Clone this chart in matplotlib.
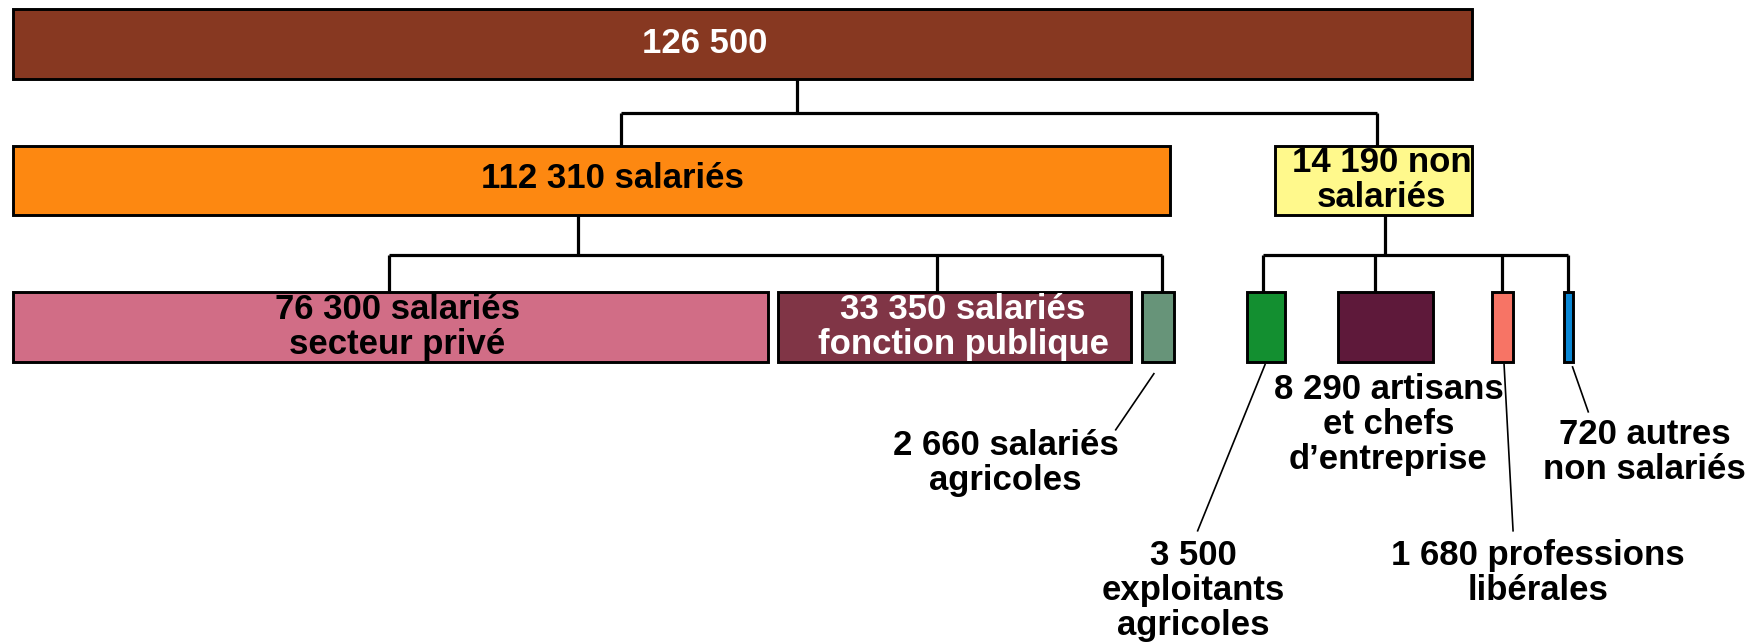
import matplotlib
matplotlib.use("Agg")
import matplotlib.pyplot as plt
from matplotlib.patches import Rectangle

# ---- data ----
total_value = 126500
level2_values = [112310, 14190]
level2_labels = ["salariés", "non\nsalariés"]
sal_values = [76300, 33350, 2660]
sal_labels = ["salariés\nsecteur privé", "salariés\nfonction publique", "salariés\nagricoles"]
nonsal_values = [3500, 8290, 1680, 720]
nonsal_labels = ["\nexploitants\nagricoles", "artisans\net chefs\nd\u2019entreprise",
                 "professions\nlibérales", "autres\nnon salariés"]

def fmt(v):
    return f"{v:,}".replace(",", " ")

# ---- layout (pixel-like coords of a 1568x573 canvas) ----
BROWN = "#873821"
ORANGE = "#FD8811"
YELLOW = "#FFF98C"
PINK = "#D16D86"
WINE = "#803546"
SAGE = "#679479"
GREEN = "#138F30"
PLUM = "#5E193A"
SALMON = "#F77465"
BLUE = "#0A88D6"

top_box = (12, 8, 1299, 62)
l2_boxes = [(12, 130, 1030, 62), (1136, 130, 175, 62)]
l2_colors = [ORANGE, YELLOW]
row_y, row_h = 260, 63
sal_x = [(12, 672), (693, 315), (1017, 29)]
sal_colors = [PINK, WINE, SAGE]
nonsal_x = [(1111, 34), (1192, 85), (1329, 19), (1393, 8)]
nonsal_colors = [GREEN, PLUM, SALMON, BLUE]

plt.rcParams.update({"font.family": ["Liberation Sans", "DejaVu Sans"],
                     "font.weight": "bold", "font.size": 25})

fig = plt.figure(figsize=(17.6, 6.43), dpi=100)
ax = fig.add_axes([0, 0, 1, 1])
ax.set_xlim(0, 1568)
ax.set_ylim(573, 0)
ax.axis("off")

EDGE = dict(edgecolor="black", linewidth=2.1)
LINE = dict(color="black", linewidth=2.3, solid_capstyle="butt")


def box(x, y, w, h, color):
    ax.add_patch(Rectangle((x, y), w, h, facecolor=color, zorder=2, **EDGE))


def label(x, y, s, color="black", **kw):
    ax.text(x, y, s, ha="center", va="center", color=color,
            fontweight="bold", linespacing=1.08, zorder=3, **kw)


# top level
x, y, w, h = top_box
box(x, y, w, h, BROWN)
label(628, 39, fmt(total_value), color="white")

# connectors top -> level 2
ax.plot([710, 710], [70, 101], **LINE)
ax.plot([553, 1227], [101, 101], **LINE)
ax.plot([553, 553], [101, 132], **LINE)
ax.plot([1227, 1227], [101, 132], **LINE)

# level 2
for (x, y, w, h), c in zip(l2_boxes, l2_colors):
    box(x, y, w, h, c)
label(546, 159, fmt(level2_values[0]) + " " + level2_labels[0])
label(1231, 160, fmt(level2_values[1]) + " " + level2_labels[1])

# connectors level 2 -> row 3 (salariés)
ax.plot([515, 515], [192, 227], **LINE)
ax.plot([347, 1035], [227, 227], **LINE)
for xv in [347, 835, 1035]:
    ax.plot([xv, xv], [227, 260], **LINE)

# connectors level 2 -> row 3 (non salariés)
ax.plot([1234, 1234], [192, 227], **LINE)
ax.plot([1125, 1397], [227, 227], **LINE)
for xv in [1125, 1225, 1338, 1397]:
    ax.plot([xv, xv], [227, 260], **LINE)

# row 3 boxes
for (x, w), c in zip(sal_x, sal_colors):
    box(x, row_y, w, row_h, c)
for (x, w), c in zip(nonsal_x, nonsal_colors):
    box(x, row_y, w, row_h, c)

label(354, 291, fmt(sal_values[0]) + " " + sal_labels[0])
label(858, 291, fmt(sal_values[1]) + " " + sal_labels[1], color="white")

# outside labels with leader lines
THIN = dict(color="black", linewidth=1.2)
ax.plot([1028, 994], [333, 383], **THIN)
label(896, 413, fmt(sal_values[2]) + " " + sal_labels[2])

ax.plot([1127, 1067], [325, 473], **THIN)
label(1063, 526, fmt(nonsal_values[0]) + nonsal_labels[0])

label(1237, 378, fmt(nonsal_values[1]) + " " + nonsal_labels[1])

ax.plot([1340, 1348], [325, 473], **THIN)
label(1370, 511, fmt(nonsal_values[2]) + " " + nonsal_labels[2])

ax.plot([1401, 1415], [327, 367], **THIN)
label(1465, 403, fmt(nonsal_values[3]) + " " + nonsal_labels[3])

fig.savefig("out.png", dpi=100, facecolor="white")
